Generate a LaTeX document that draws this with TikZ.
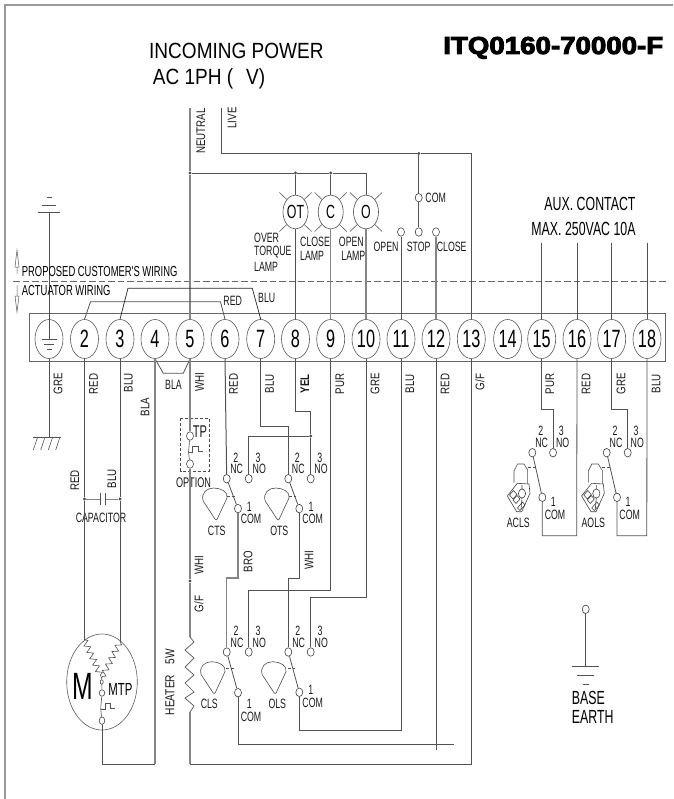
\documentclass[tikz,border=0pt]{standalone}
\usepackage{fontspec}
\setmainfont{Liberation Sans}
\newfontfamily\narf[FakeStretch=0.65]{Liberation Sans}
\newfontfamily\midf[FakeStretch=0.78]{Liberation Sans}
\newfontfamily\bigf[FakeStretch=0.865]{Liberation Sans}
\newfontfamily\ttlf[BoldFeatures={FakeStretch=1.13,FakeBold=4}]{Liberation Sans}
\usetikzlibrary{shapes.geometric,decorations.pathmorphing}
\newcommand\fsz[1]{\fontsize{#1}{#1}\selectfont}
\tikzset{
  wire/.style={draw=black!68,line width=0.8pt},
  gwire/.style={draw=black!48,line width=1.2pt},
  term/.style={ellipse,draw=black!65,line width=0.6pt,fill=white,inner sep=0pt,minimum width=28pt,minimum height=39pt,font=\narf\fsz{25}},
  lamp/.style={ellipse,draw=black!70,line width=0.6pt,fill=white,inner sep=0pt,minimum width=25pt,minimum height=34pt,font=\narf\fsz{19}},
  con/.style={ellipse,draw=black!75,line width=0.6pt,fill=white,inner sep=0pt,minimum width=7pt,minimum height=8.5pt},
  dotn/.style={circle,fill=black!70,inner sep=0pt,minimum size=3.4pt},
  lbs/.style={inner sep=0pt,font=\narf\fsz{13.5},text=black!90},
  vlbs/.style={inner sep=0pt,rotate=90,font=\midf\fsz{12.5},text=black!90},
  zig/.style={wire,line width=0.6pt,decorate,decoration={zigzag,segment length=7pt,amplitude=3pt}},
  cam/.pic={\draw[draw=black!70,line width=0.6pt] (12.3,31) -- (0.5,13) .. controls (-2,5) and (4,0) .. (11,0) .. controls (18,0) and (26,4) .. (24.3,10) -- (14.5,31) .. controls (13.8,32) and (13,32) .. (12.3,31);},
  auxcam/.pic={
    \draw[draw=black!70,line width=0.6pt] (0,18.7) -- (0,7) -- (3.5,0) -- (10,0) -- (13.7,6);
    \draw[draw=black!45,line width=1pt] (13.7,6) -- (13.7,19.7);
    \draw[draw=black!75,line width=0.6pt] (3.3,19.3) -- (15,20) -- (16,29.3) -- (7.7,47.7) -- (2.7,47.7) -- (-6.7,32) -- cycle;
    \draw[draw=black!75,line width=0.6pt] (8,29.5) ellipse (3.6 and 4.6);
    \draw[draw=black!75,line width=0.6pt] (-4.5,31) -- (-0.5,26.5) -- (3,30.5) -- (-1,35) -- cycle;
    \draw[draw=black!75,line width=0.6pt] (-1,36) -- (3,31.5) -- (6,35) -- (2,39.5) -- cycle;
    \draw[draw=black!75,line width=0.6pt] (3.5,44) -- (8.5,38) -- (11,41) -- (6,46.5) -- cycle;
    \draw[draw=black!75,line width=0.6pt] (8,25) -- (8,21) (8,34) -- (7,45);
  }
}
\newcommand\lbn[4][]{\node[lbs,#1] (#2) at (#3) {#4};}
\newcommand\vln[4][]{\node[vlbs,#1] (#2) at (#3) {#4};}
\newcommand\lrays[1]{\draw[draw=black!65,line width=0.6pt] (#1.55) -- ++(7.3,-7) (#1.125) -- ++(-7.3,-7) (#1.-55) -- ++(7.3,7) (#1.-125) -- ++(-7.3,7);}
\begin{document}
\begin{tikzpicture}[x=1pt,y=-1pt]
\useasboundingbox (0,0) rectangle (673,799);
% frame
\draw[draw=black!40,line width=1.2pt] (5,799) -- (5,5) -- (673,5);
% terminal strip
\node[draw=black!60,line width=0.7pt,minimum width=635.7pt,minimum height=48.4pt,inner sep=0pt] (strip) at (347.15,337.5) {};
\draw[draw=black!60,line width=0.6pt,dash pattern=on 6.5pt off 3pt] (13,281) -- (668,281);
% terminals
\node[term] (T1) at (49,339) {};
\node[term] (T2) at (84.5,339) {2};
\node[term] (T3) at (120,339) {3};
\node[term] (T4) at (155,339) {4};
\node[term] (T5) at (190,339) {5};
\node[term] (T6) at (225,339) {6};
\node[term] (T7) at (260.7,339) {7};
\node[term] (T8) at (295.5,339) {8};
\node[term] (T9) at (330.7,339) {9};
\node[term] (T10) at (366,339) {10};
\node[term] (T11) at (401,339) {11};
\node[term] (T12) at (436,339) {12};
\node[term] (T13) at (471.3,339) {13};
\node[term] (T14) at (507.6,339) {14};
\node[term] (T15) at (541.7,339) {15};
\node[term] (T16) at (577,339) {16};
\node[term] (T17) at (611.7,339) {17};
\node[term] (T18) at (647,339) {18};
% earth inside T1
\coordinate (Tg) at (49,339);
\draw[wire] (T1.north) -- (Tg);
\draw[wire,line width=0.6pt] (41.7,339) -- (57.3,339) (44,344.3) -- (54,344.3) (47,349) -- (51.5,349);
% title texts
\node[anchor=base west,inner sep=0pt,font=\bigf\fsz{22}] (t1) at (149,59) {INCOMING POWER};
\node[anchor=base west,inner sep=0pt,font=\bigf\fsz{22}] (t2) at (152.7,85) {AC 1PH (\hspace{13pt}V)};
\node[anchor=base west,inner sep=0pt,font=\ttlf\bfseries\fsz{24.5}] (t3) at (443,54) {ITQ0160-70000-F};
\vln{tN}{201,131}{NEUTRAL}
\vln{tL}{232,118}{LIVE}
% lamps
\node[lamp] (OT) at (295.5,212) {OT};
\node[lamp] (CL) at (330.7,212) {C};
\node[lamp] (OL) at (366,212) {O};
\lrays{OT}\lrays{CL}\lrays{OL}
\lbn[anchor=west]{a1}{254,237.7}{OVER}
\lbn[anchor=west]{a2}{254,251.7}{TORQUE}
\lbn[anchor=west]{a3}{254,267.3}{LAMP}
\lbn[anchor=west]{a4}{300,242}{CLOSE}
\lbn[anchor=west]{a5}{300,255.5}{LAMP}
\lbn[anchor=east]{a6}{364,242}{OPEN}
\lbn[anchor=east]{a7}{365.5,255.5}{LAMP}
% neutral, live
\coordinate (Nn) at (190,108);
\coordinate (Ll) at (221,108);
\node[dotn] (dN) at (190,173) {};
\node[dotn] (dOT) at (295.5,173) {};
\node[dotn] (dC) at (330.7,173) {};
\node[dotn] (dL) at (418.7,153.5) {};
\draw[gwire] (Nn) -- (dN);
\draw[gwire] (dN) -- (T5.north);
\draw[wire] (dN) -- (dOT);
\draw[wire] (dOT) -- (dC);
\draw[wire] (dC) -| (OL.north);
\draw[wire] (dOT) -- (OT.north);
\draw[wire] (dC) -- (CL.north);
\draw[wire] (Ll) |- (dL);
\draw[wire] (dL) -| (T13.north);
\draw[wire] (OT.south) -- (T8.north);
\draw[gwire] (CL.south) -- (T9.north);
\draw[gwire] (OL.south) -- (T10.north);
% stop/open/close
\node[con] (sCom) at (418.7,197.7) {};
\node[con] (sStop) at (418.7,232) {};
\node[con] (sOpen) at (401,232) {};
\node[con] (sClose) at (436,232) {};
\draw[wire] (dL) -- (sCom);
\draw[wire] (sCom) -- (sStop);
\draw[wire,line width=1pt] (sOpen) -- (T11.north);
\draw[gwire] (sClose) -- (T12.north);
\lbn{b1}{435.7,197.7}{COM}
\lbn{b2}{386,247.3}{OPEN}
\lbn{b3}{418.7,247.3}{STOP}
\lbn{b4}{451.7,247.3}{CLOSE}
% aux
\node[inner sep=0pt,font=\narf\fsz{19}] (x1) at (590,204) {AUX. CONTACT};
\node[inner sep=0pt,font=\narf\fsz{19}] (x2) at (583.5,228.7) {MAX. 250VAC 10A};
\coordinate (a15) at (541.7,243);
\coordinate (a16) at (577,243);
\coordinate (a17) at (611.7,243);
\coordinate (a18) at (647,243);
\draw[wire] (a15) -- (T15.north);
\draw[wire] (a16) -- (T16.north);
\draw[wire] (a17) -- (T17.north);
\draw[wire] (a18) -- (T18.north);
% earth top
\coordinate (gTop) at (49,212);
\draw[wire] (gTop) -- (T1.north);
\draw[wire] (38,212) -- (60,212) (42,205) -- (56,205);
\draw[wire,line width=0.6pt] (46.5,197) -- (52,197);
% wiring labels and arrows
\node[anchor=west,inner sep=0pt,font=\narf\fsz{14.5}] (w1) at (21.7,271.7) {PROPOSED CUSTOMER'S WIRING};
\node[anchor=west,inner sep=0pt,font=\narf\fsz{14.5}] (w2) at (21.7,290.7) {ACTUATOR WIRING};
\draw[draw=black!65,line width=0.5pt] (17,250) -- (15,267) -- (19,267) -- cycle (17,267) -- (17,274);
\draw[draw=black!65,line width=0.5pt] (17,285) -- (17,296) (15,296) -- (19,296) -- (17,312) -- cycle;
% top jumpers
\draw[wire] (T2.north) -- ++(6,-17.4) -- ++(130,0) -- (T6.north);
\draw[draw=black!85,line width=0.7pt] (T3.north) -- ++(8,-31) -- ++(124.3,0) -- (T7.north);
\lbn{j1}{232.7,300.7}{RED}
\lbn{j2}{266.7,297.7}{BLU}
% bottom jumper
\draw[wire] (T4.south) -- ++(8.3,14.5) -- ++(20,0) -- (T5.south);
\lbn{j3}{173.5,385}{BLA}
% colour labels
\vln{c1}{58,384}{GRE}
\vln{c2}{93.5,384}{RED}
\vln{c3}{128.5,383}{BLU}
\vln{c4}{145,407}{BLA}
\vln{c5}{199.5,382}{WHI}
\vln{c6}{233.5,384}{RED}
\vln{c7}{269.7,384}{BLU}
\vln{c8}{304.7,384}{\bfseries YEL}
\vln{c9}{340,384}{PUR}
\vln{c10}{375,384}{GRE}
\vln{c11}{410,384}{BLU}
\vln{c12}{445,384}{RED}
\vln{c13}{480,382}{G/F}
\vln{c15}{550,384}{PUR}
\vln{c16}{586,384}{RED}
\vln{c17}{621,384}{GRE}
\vln{c18}{656,384}{BLU}
% ground hatch
\node[inner sep=0pt,minimum size=0pt] (gB) at (49,437) {};
\draw[wire] (T1.south) -- (gB);
\draw[wire] (33,437) -- (61,437);
\draw[wire,line width=0.6pt] (37.7,437) -- (33.3,450) (45,437) -- (40.7,450) (52.7,437) -- (48.3,450) (60,437) -- (55.7,450);
% capacitor
\node[dotn] (cA) at (84.5,499) {};
\node[dotn] (cB) at (120,499) {};
\coordinate (p1) at (100,499);
\coordinate (p2) at (105,499);
\draw[gwire,line width=1pt] (cA) -- (p1) (p2) -- (cB);
\draw[wire] (100,492.7) -- (100,505) (105,492.7) -- (105,505);
\vln{c19}{74.7,480.7}{RED}
\vln{c20}{112,479}{BLU}
\lbn{c21}{101,518}{CAPACITOR}
% motor
\node[ellipse,draw=black!65,line width=0.6pt,minimum width=70.6pt,minimum height=96pt,inner sep=0pt] (Mot) at (102,682) {};
\coordinate (mL) at (84.5,640);
\coordinate (mR) at (120,642);
\coordinate (mS) at (101.7,678);
\node[con,minimum width=3pt,minimum height=4.5pt] (mC0) at (101.7,682) {};
\node[con,minimum width=5.5pt,minimum height=6.5pt] (mC1) at (102,693) {};
\node[con,minimum width=5.5pt,minimum height=7.5pt] (mC2) at (102,720.7) {};
\draw[zig] (mL) -- (mS);
\draw[zig] (mR) -- (mS);
\draw[wire,line width=0.6pt] (mS) -- (mC0) (mC0) -- (mC1) (mC1) -- (100.7,709) -- (mC2);
\draw[wire,line width=0.6pt] (101,709) -- (105,709) -- (105,703) -- (110,703) -- (110,708) -- (115,708);
\node[inner sep=0pt,font=\narf\fsz{38}] (mM) at (83,686) {M};
\node[inner sep=0pt,font=\narf\fsz{17.5}] (mT) at (120.5,689) {MTP};
\draw[wire] (T2.south) -- (cA);
\draw[wire] (cA) -- (mL);
\draw[wire] (T3.south) -- (cB);
\draw[wire] (cB) -- (mR);
\coordinate (c4b) at (155,764);
\draw[gwire] (T4.south) -- (c4b);
\draw[wire] (c4b) -| (mC2);
% TP option
\node[con] (tpA) at (190,436) {};
\node[con] (tpB) at (190,464) {};
\draw[draw=black!70,line width=0.5pt,densely dashed] (180.7,418.3) rectangle (209.3,471);
\lbn[font=\narf\fsz{17}]{tpL}{200,432}{TP}
\lbn[font=\narf\fsz{14}]{tpO}{193.5,483}{OPTION}
\draw[wire,line width=0.6pt] (tpA) -- (188.5,452) -- (tpB);
\draw[wire,line width=0.6pt] (188.5,452.3) -- (192.7,452.3) -- (192.7,446) -- (198.3,446) -- (198.3,451) -- (203.3,451);
\draw[gwire] (T5.south) -- (tpA);
% WHI/G-F wire and heater
\node[dotn] (dH) at (190,581) {};
\coordinate (hT) at (190,637);
\coordinate (hB) at (190,712);
\coordinate (hC) at (190,764);
\draw[gwire] (tpB) -- (dH);
\draw[gwire] (dH) -- (hT);
\draw[wire,line width=0.7pt] (hT) -- (194,642) -- (185,650) -- (194,658) -- (185,667) -- (194,675) -- (185,683) -- (194,692) -- (185,698) -- (194,706) -- (hB);
\draw[gwire] (hB) -- (hC);
\draw[wire] (hC) -| (T13.south);
\vln{h1}{199,565}{WHI}
\vln{h2}{199,604}{G/F}
\vln[font=\midf\fsz{13}]{h3}{170,695}{HEATER}
\vln[font=\midf\fsz{13}]{h4}{170,657}{5W}
% CTS
\node[con] (ctsNC) at (226.7,478.7) {};
\node[con] (ctsNO) at (248.7,478.7) {};
\node[con] (ctsC) at (238,508.6) {};
\pic at (202.7,488) {cam};
\draw[wire] (ctsNC) -- (ctsC);
\draw[wire,line width=0.6pt,densely dashed] (227,496) -- (234.5,496);
\draw[wire,line width=1pt] (T6.south) -- (ctsNC);
\lbn{d1}{235.7,457.7}{2}\lbn{d2}{236.7,469}{NC}\lbn{d3}{258,457.7}{3}\lbn{d4}{259.3,469}{NO}
\lbn{d5}{249.3,507.3}{1}\lbn{d6}{251,519.3}{COM}\lbn{d7}{216.7,530.7}{CTS}
% OTS
\node[con] (otsNC) at (288.3,478.7) {};
\node[con] (otsNO) at (310.7,478.7) {};
\node[con] (otsC) at (299.3,508.6) {};
\pic at (264.7,488) {cam};
\draw[wire] (otsNC) -- (otsC);
\draw[wire,line width=0.6pt,densely dashed] (289,496) -- (295.5,496);
\node[dotn] (dNO) at (310.7,436) {};
\draw[wire] (ctsNO) |- (dNO);
\draw[wire] (dNO) -- (otsNO);
\draw[wire] (T8.south) -- ++(0,53) -| (dNO);
\draw[wire] (T7.south) -- ++(0,68) -| (otsNC);
\lbn{e1}{297.3,457.7}{2}\lbn{e2}{298.3,469}{NC}\lbn{e3}{319.7,457.7}{3}\lbn{e4}{321,469}{NO}
\lbn{e5}{311,507.3}{1}\lbn{e6}{312.7,519.3}{COM}\lbn{e7}{279.3,530.7}{OTS}
\vln{e8}{248,561.7}{BRO}
\vln{e9}{309,560}{WHI}
% CLS
\node[con] (clsNC) at (226.7,652) {};
\node[con] (clsNO) at (248.7,652) {};
\node[con] (clsC) at (238,692.7) {};
\pic at (200.7,661.7) {cam};
\draw[wire] (clsNC) -- (clsC);
\draw[wire,line width=0.6pt,densely dashed] (226,668) -- (233.5,668);
\lbn{f1}{236,630.7}{2}\lbn{f2}{237,642.7}{NC}\lbn{f3}{258,630.7}{3}\lbn{f4}{259.3,642.7}{NO}
\lbn{f5}{249.3,704.3}{1}\lbn{f6}{251,716.7}{COM}\lbn{f7}{209.3,704}{CLS}
% OLS
\node[con] (olsNC) at (288.3,652) {};
\node[con] (olsNO) at (310.7,652) {};
\node[con] (olsC) at (299.3,692.3) {};
\pic at (261.7,661.7) {cam};
\draw[wire] (olsNC) -- (olsC);
\draw[wire,line width=0.6pt,densely dashed] (287.5,668) -- (294.5,668);
\lbn{g1}{297.7,630.7}{2}\lbn{g2}{298.7,642.7}{NC}\lbn{g3}{320,630.7}{3}\lbn{g4}{321.3,642.7}{NO}
\lbn{g5}{310.7,690}{1}\lbn{g6}{312.7,702.7}{COM}\lbn{g7}{277.3,704}{OLS}
% links between the switch rows
\draw[gwire] (ctsC) -- (238,578) -| (clsNC);
\draw[wire] (otsC) -- (299.3,578) -| (olsNC);
\draw[wire] (clsNO) |- (330.7,590) -- (T9.south);
\draw[wire] (olsNO) |- (366,597) -- (T10.south);
\coordinate (e454) at (454,744);
\coordinate (e750) at (436,750);
\draw[wire] (clsC) |- (e454);
\draw[wire,line width=0.6pt] (T12.south) -- (e750);
\draw[wire] (olsC) |- (401,730) -- (T11.south);
% ACLS
\node[con] (acNC) at (532.3,452.7) {};
\node[con] (acNO) at (553,452.7) {};
\node[con] (acC) at (542.3,497.3) {};
\pic at (514,464) {auxcam};
\draw[wire] (acNC) -- (acC);
\draw[wire,line width=0.6pt,densely dashed] (527.7,467.3) -- (537,467.3);
\draw[wire] (T15.south) |- (553,409.3) -- (acNO);
\draw[wire] (acC) |- (576.7,535.7) -- (T16.south);
\lbn{k1}{540.7,431}{2}\lbn{k2}{541.7,443.3}{NC}\lbn{k3}{561.3,431}{3}\lbn{k4}{562.7,443.3}{NO}
\lbn{k5}{553.3,502.3}{1}\lbn{k6}{555,515}{COM}\lbn{k7}{518.3,522.7}{ACLS}
% AOLS
\node[con] (aoNC) at (606.7,452.7) {};
\node[con] (aoNO) at (627.7,452.7) {};
\node[con] (aoC) at (617,497.3) {};
\pic at (588.3,464) {auxcam};
\draw[wire] (aoNC) -- (aoC);
\draw[wire,line width=0.6pt,densely dashed] (602,467.3) -- (611,467.3);
\draw[wire] (T17.south) |- (627.7,409.3) -- (aoNO);
\draw[wire] (aoC) |- (646.8,535.7) -- (T18.south);
\lbn{m1}{615,431}{2}\lbn{m2}{616,443.3}{NC}\lbn{m3}{636,431}{3}\lbn{m4}{637.3,443.3}{NO}
\lbn{m5}{628,502.3}{1}\lbn{m6}{629.7,515}{COM}\lbn{m7}{593.3,522.7}{AOLS}
% base earth
\node[con] (bE) at (585.7,609.3) {};
\coordinate (bG) at (585.7,666.7);
\draw[wire] (bE) -- (bG);
\draw[wire,line width=0.6pt] (572.3,666.7) -- (599,666.7) (577,675) -- (594,675) (582.7,684) -- (589,684);
\node[anchor=west,inner sep=0pt,font=\narf\fsz{19}] (bt1) at (571.7,698.3) {BASE};
\node[anchor=west,inner sep=0pt,font=\narf\fsz{19}] (bt2) at (571.7,716.7) {EARTH};
\end{tikzpicture}
\end{document}
